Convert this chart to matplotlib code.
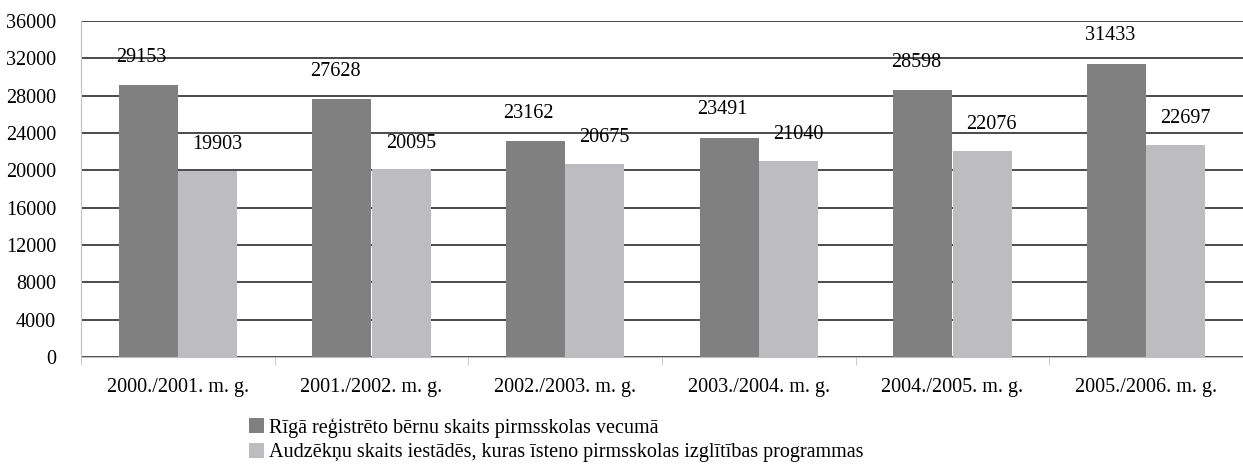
import matplotlib
matplotlib.use("Agg")
import matplotlib.pyplot as plt
import numpy as np
from matplotlib.patches import Patch

categories = ["2000./2001. m. g.", "2001./2002. m. g.", "2002./2003. m. g.",
              "2003./2004. m. g.", "2004./2005. m. g.", "2005./2006. m. g."]
registered = [29153, 27628, 23162, 23491, 28598, 31433]
students = [19903, 20095, 20675, 21040, 22076, 22697]
series_names = ["Rīgā reģistrēto bērnu skaits pirmsskolas vecumā",
                "Audzēkņu skaits iestādēs, kuras īsteno pirmsskolas izglītības programmas"]
yticks = list(range(0, 36001, 4000))

plt.rcParams['font.family'] = ['Liberation Serif', 'DejaVu Serif']
fs = 14.5

fig = plt.figure(figsize=(12.43, 4.65), dpi=100)
ax = fig.add_axes([81/1243, 1 - 357/465, (1243-81)/1243, (357-21)/465])

dark = '#808080'
light = '#bdbdbf'
x = np.arange(len(categories))
w = 0.305
ax.bar(x - w/2, registered, w, color=dark, zorder=3)
ax.bar(x + w/2, students, w, color=light, zorder=3)

for xi, v in zip(x, registered):
    ax.annotate(str(v), (xi - w/2, v), xytext=(-5, 20), textcoords='offset points',
                ha='center', va='center', fontsize=fs)
for xi, v in zip(x, students):
    ax.annotate(str(v), (xi + w/2, v), xytext=(7, 19), textcoords='offset points',
                ha='center', va='center', fontsize=fs)

ax.set_ylim(0, 36000)
ax.set_xlim(-0.5, len(categories) - 0.5)
ax.set_yticks(yticks)
ax.set_yticklabels([str(t) for t in yticks], fontsize=fs)
ax.yaxis.grid(True, color='#1a1a1a', linewidth=1.1, zorder=0)
ax.tick_params(axis='y', length=0, pad=18)

ax.set_xticks(x)
ax.set_xticklabels(categories, fontsize=fs)
ax.tick_params(axis='x', length=0, pad=15)
ax.set_xticks(np.arange(-0.5, len(categories)), minor=True)
ax.tick_params(axis='x', which='minor', length=6, color='#bfbfbf')

for s in ['top', 'right']:
    ax.spines[s].set_visible(False)
ax.spines['left'].set_color('#bfbfbf')
ax.spines['bottom'].set_color('#bfbfbf')

handles = [Patch(facecolor=dark), Patch(facecolor=light)]
fig.legend(handles, series_names, loc='upper left', bbox_to_anchor=(249/1243, 1 - 418/465),
           frameon=False, fontsize=fs, handlelength=0.75, handleheight=0.75,
           handletextpad=0.25, labelspacing=0.25, borderpad=0, borderaxespad=0)

fig.savefig('out.png', dpi=100)
